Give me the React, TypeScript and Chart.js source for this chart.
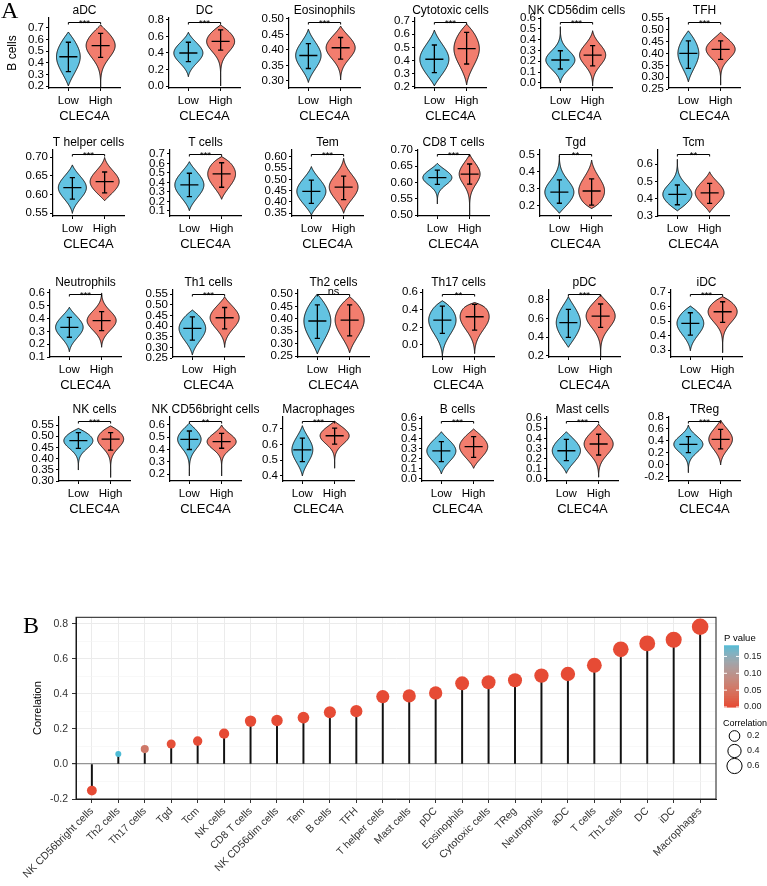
import React, { useEffect, useRef } from 'react';
import { Chart, registerables } from 'chart.js';

Chart.register(...registerables);

const FONT = '"Liberation Sans", Arial, Helvetica, sans-serif';
Chart.defaults.font.family = FONT;

// ---------------- Panel A data ----------------
const cellTypes = [
  'aDC', 'DC', 'Eosinophils', 'Cytotoxic cells', 'NK CD56dim cells', 'TFH',
  'T helper cells', 'T cells', 'Tem', 'CD8 T cells', 'Tgd', 'Tcm',
  'Neutrophils', 'Th1 cells', 'Th2 cells', 'Th17 cells', 'pDC', 'iDC',
  'NK cells', 'NK CD56bright cells', 'Macrophages', 'B cells', 'Mast cells', 'TReg',
];
const groupLabels = ['Low', 'High'];
const groupAxisTitle = 'CLEC4A';
const firstAxisTitle = 'B cells';
const sigLabels = [
  '***', '***', '***', '***', '***', '***',
  '***', '***', '***', '***', '**', '**',
  '***', '***', 'ns', '**', '***', '***',
  '***', '**', '***', '***', '***', '***',
];
// each entry: [min, mean - sd, mean, mean + sd, max]
const lowGroup = [
  [0.20, 0.323, 0.451, 0.575, 0.663],
  [0.113, 0.295, 0.40, 0.53, 0.651],
  [0.295, 0.34, 0.382, 0.42, 0.467],
  [0.208, 0.308, 0.41, 0.518, 0.632],
  [0.0, 0.128, 0.211, 0.297, 0.52],
  [0.281, 0.338, 0.401, 0.454, 0.496],
  [0.549, 0.587, 0.618, 0.645, 0.679],
  [0.103, 0.25, 0.374, 0.497, 0.619],
  [0.341, 0.393, 0.447, 0.497, 0.557],
  [0.534, 0.594, 0.615, 0.638, 0.659],
  [0.157, 0.216, 0.281, 0.353, 0.494],
  [0.33, 0.365, 0.425, 0.479, 0.627],
  [0.141, 0.254, 0.332, 0.41, 0.488],
  [0.264, 0.334, 0.389, 0.443, 0.475],
  [0.258, 0.321, 0.391, 0.456, 0.50],
  [-0.127, 0.131, 0.282, 0.441, 0.501],
  [0.293, 0.40, 0.557, 0.70, 0.835],
  [0.295, 0.403, 0.484, 0.557, 0.603],
  [0.349, 0.446, 0.48, 0.516, 0.535],
  [0.184, 0.40, 0.483, 0.551, 0.614],
  [0.40, 0.491, 0.566, 0.64, 0.719],
  [0.049, 0.17, 0.276, 0.367, 0.465],
  [0.056, 0.18, 0.278, 0.39, 0.465],
  [-0.128, 0.205, 0.345, 0.472, 0.667],
];
const highGroup = [
  [0.19, 0.446, 0.546, 0.652, 0.723],
  [0.0, 0.436, 0.54, 0.68, 0.74],
  [0.303, 0.37, 0.407, 0.44, 0.477],
  [0.215, 0.374, 0.49, 0.614, 0.677],
  [-0.03, 0.156, 0.257, 0.344, 0.482],
  [0.267, 0.376, 0.418, 0.454, 0.49],
  [0.583, 0.604, 0.634, 0.66, 0.699],
  [0.223, 0.35, 0.49, 0.608, 0.672],
  [0.349, 0.41, 0.466, 0.515, 0.594],
  [0.50, 0.595, 0.626, 0.657, 0.687],
  [0.185, 0.205, 0.288, 0.359, 0.47],
  [0.32, 0.373, 0.434, 0.488, 0.555],
  [0.176, 0.306, 0.384, 0.454, 0.60],
  [0.30, 0.387, 0.439, 0.487, 0.537],
  [0.263, 0.331, 0.395, 0.456, 0.489],
  [-0.097, 0.168, 0.32, 0.46, 0.48],
  [0.20, 0.507, 0.628, 0.757, 0.854],
  [0.282, 0.491, 0.564, 0.633, 0.668],
  [0.316, 0.438, 0.487, 0.516, 0.546],
  [0.184, 0.41, 0.464, 0.532, 0.60],
  [0.449, 0.602, 0.655, 0.704, 0.747],
  [0.105, 0.213, 0.318, 0.416, 0.492],
  [0.017, 0.236, 0.344, 0.44, 0.54],
  [0.0, 0.267, 0.428, 0.595, 0.75],
];
const yMinValues = [
  0.183, -0.024, 0.277, 0.192, -0.048, 0.255,
  0.542, 0.047, 0.337, 0.497, 0.141, 0.30,
  0.10, 0.255, 0.246, -0.136, 0.189, 0.252,
  0.30, 0.143, 0.368, -0.02, -0.02, -0.267,
];
const yMaxValues = [
  0.783, 0.824, 0.503, 0.723, 0.60, 0.55,
  0.719, 0.742, 0.631, 0.70, 0.529, 0.681,
  0.623, 0.569, 0.516, 0.623, 0.907, 0.714,
  0.586, 0.665, 0.774, 0.61, 0.61, 0.80,
];
const yTickFrom = [
  0.2, 0.0, 0.30, 0.2, 0.0, 0.25,
  0.55, 0.1, 0.35, 0.50, 0.2, 0.3,
  0.1, 0.25, 0.25, 0.0, 0.2, 0.3,
  0.30, 0.2, 0.4, 0.0, 0.0, -0.2,
];
const yTickTo = [
  0.7, 0.8, 0.50, 0.7, 0.6, 0.55,
  0.70, 0.7, 0.60, 0.70, 0.5, 0.6,
  0.6, 0.55, 0.50, 0.6, 0.8, 0.7,
  0.55, 0.6, 0.7, 0.6, 0.6, 0.8,
];
const yTickStep = [
  0.1, 0.2, 0.05, 0.1, 0.1, 0.05,
  0.05, 0.1, 0.05, 0.05, 0.1, 0.1,
  0.1, 0.05, 0.05, 0.2, 0.2, 0.1,
  0.05, 0.1, 0.1, 0.1, 0.1, 0.2,
];

// ---------------- Panel B data ----------------
const corrCells = [
  'NK CD56bright cells', 'Th2 cells', 'Th17 cells', 'Tgd', 'Tcm', 'NK cells',
  'CD8 T cells', 'NK CD56dim cells', 'Tem', 'B cells', 'TFH', 'T helper cells',
  'Mast cells', 'pDC', 'Eosinophils', 'Cytotoxic cells', 'TReg', 'Neutrophils',
  'aDC', 'T cells', 'Th1 cells', 'DC', 'iDC', 'Macrophages',
];
const corrValues = [
  -0.152, 0.057, 0.085, 0.114, 0.131, 0.173,
  0.245, 0.248, 0.265, 0.296, 0.302, 0.385,
  0.389, 0.406, 0.461, 0.467, 0.478, 0.505,
  0.514, 0.564, 0.655, 0.689, 0.71, 0.784,
];
const corrPValues = [
  0.0, 0.183, 0.06, 0.004, 0.001, 0.0,
  0.0, 0.0, 0.0, 0.0, 0.0, 0.0,
  0.0, 0.0, 0.0, 0.0, 0.0, 0.0,
  0.0, 0.0, 0.0, 0.0, 0.0, 0.0,
];
const pLegendTicks = [0.0, 0.05, 0.1, 0.15];
const sizeLegendTicks = [0.2, 0.4, 0.6];
const corrTicks = [-0.2, -0.1, 0.0, 0.1, 0.2, 0.3, 0.4, 0.5, 0.6, 0.7, 0.8];

// ---------------- layout / style ----------------
const LOW_FILL = '#63C3E2';
const HIGH_FILL = '#F27D6E';
const P_LOW_COLOR = '#E64B35';
const P_HIGH_COLOR = '#4DBBD5';
const ROWS = [
  { top: 18, bottom: 88 },
  { top: 150, bottom: 216 },
  { top: 290, bottom: 357 },
  { top: 417, bottom: 481 },
];
const AXIS_X = [
  49, 169, 289, 415, 541, 669,
  53, 170, 292, 418, 540, 658,
  50, 173, 298, 423, 549, 671,
  59, 170, 283, 422, 547, 669,
];
const PLOT_W = 71;
const TOP_PAD = 16;
const X_AXIS_H = 36;
const RIGHT_PAD = 26;

function tickList(from: number, to: number, step: number) {
  const n = Math.round((to - from) / step);
  return Array.from({ length: n + 1 }, (_, k) => +(from + k * step).toFixed(4));
}

// ---------------- colour helpers (Lab interpolation like ggplot) ----------------
function hexToRgb(h: string) {
  const v = parseInt(h.slice(1), 16);
  return [(v >> 16) & 255, (v >> 8) & 255, v & 255];
}
function toLin(c: number) {
  c /= 255;
  return c <= 0.04045 ? c / 12.92 : Math.pow((c + 0.055) / 1.055, 2.4);
}
function fromLin(c: number) {
  const v = c <= 0.0031308 ? 12.92 * c : 1.055 * Math.pow(c, 1 / 2.4) - 0.055;
  return Math.max(0, Math.min(255, Math.round(v * 255)));
}
function rgbToLab(rgb: number[]) {
  const [r, g, b] = rgb.map(toLin);
  const X = (r * 0.4124 + g * 0.3576 + b * 0.1805) / 0.95047;
  const Y = r * 0.2126 + g * 0.7152 + b * 0.0722;
  const Z = (r * 0.0193 + g * 0.1192 + b * 0.9505) / 1.08883;
  const f = (t: number) => (t > 0.008856 ? Math.cbrt(t) : 7.787 * t + 16 / 116);
  const fx = f(X), fy = f(Y), fz = f(Z);
  return [116 * fy - 16, 500 * (fx - fy), 200 * (fy - fz)];
}
function labToRgb(lab: number[]) {
  const [L, a, bb] = lab;
  const fy = (L + 16) / 116;
  const fx = fy + a / 500;
  const fz = fy - bb / 200;
  const inv = (t: number) => (t * t * t > 0.008856 ? t * t * t : (t - 16 / 116) / 7.787);
  const X = inv(fx) * 0.95047, Y = inv(fy), Z = inv(fz) * 1.08883;
  const r = X * 3.2406 + Y * -1.5372 + Z * -0.4986;
  const g = X * -0.9689 + Y * 1.8758 + Z * 0.0415;
  const b = X * 0.0557 + Y * -0.204 + Z * 1.057;
  return `rgb(${fromLin(r)},${fromLin(g)},${fromLin(b)})`;
}
const LAB_LOW = rgbToLab(hexToRgb(P_LOW_COLOR));
const LAB_HIGH = rgbToLab(hexToRgb(P_HIGH_COLOR));
const P_MIN = Math.min(...corrPValues);
const P_MAX = Math.max(...corrPValues);
function pColor(p: number) {
  const t = Math.max(0, Math.min(1, (p - P_MIN) / (P_MAX - P_MIN)));
  return labToRgb(LAB_LOW.map((v, i) => v + (LAB_HIGH[i] - v) * t));
}
const ABS_MIN = Math.min(...corrValues.map(Math.abs));
const ABS_MAX = Math.max(...corrValues.map(Math.abs));
function sizeFor(v: number) {
  const t = Math.max(0, (Math.abs(v) - ABS_MIN) / (ABS_MAX - ABS_MIN));
  return 3 + 5.3 * Math.sqrt(t);
}

// ---------------- violin plugin ----------------
const violinPlugin = {
  id: 'violinPanel',
  afterDatasetsDraw(chart: any, _args: any, opts: any) {
    const { ctx, chartArea } = chart;
    const xs = chart.scales.x;
    const ys = chart.scales.y;
    const unit = xs.getPixelForValue(2) - xs.getPixelForValue(1);
    const groups = [opts.low, opts.high];
    const fills = [LOW_FILL, HIGH_FILL];
    const sds = groups.map((g: number[]) => (g[3] - g[1]) / 2);
    const sdMin = Math.min(...sds);
    ctx.save();
    groups.forEach((g: number[], gi: number) => {
      const [mn, lo, mean, hi, mx] = g;
      const sd = sds[gi];
      const cx = xs.getPixelForValue(gi + 1);
      const half = 0.45 * unit * Math.max(0.72, sdMin / sd);
      const N = 90;
      const pts: number[][] = [];
      for (let k = 0; k <= N; k++) {
        const v = mn + ((mx - mn) * k) / N;
        const z = (v - mean) / sd;
        let w = Math.exp(-0.5 * z * z);
        const e = v < mean ? (mean - v) / Math.max(1e-6, mean - mn) : (v - mean) / Math.max(1e-6, mx - mean);
        w *= 1 - Math.pow(Math.min(1, e), 6);
        pts.push([half * w, ys.getPixelForValue(v)]);
      }
      ctx.beginPath();
      pts.forEach(([w, py], k) => (k ? ctx.lineTo(cx + w, py) : ctx.moveTo(cx + w, py)));
      for (let k = N; k >= 0; k--) ctx.lineTo(cx - pts[k][0], pts[k][1]);
      ctx.closePath();
      ctx.fillStyle = fills[gi];
      ctx.fill();
      ctx.lineWidth = 1;
      ctx.strokeStyle = '#111';
      ctx.lineJoin = 'round';
      ctx.stroke();
      // crossbar (mean +/- sd)
      const yLo = ys.getPixelForValue(lo);
      const yHi = ys.getPixelForValue(hi);
      const yM = ys.getPixelForValue(mean);
      const cap = 0.08 * unit;
      const bar = 0.28 * unit;
      ctx.beginPath();
      ctx.lineWidth = 1.3;
      ctx.strokeStyle = '#000';
      ctx.moveTo(cx, yLo); ctx.lineTo(cx, yHi);
      ctx.moveTo(cx - cap, yLo); ctx.lineTo(cx + cap, yLo);
      ctx.moveTo(cx - cap, yHi); ctx.lineTo(cx + cap, yHi);
      ctx.moveTo(cx - bar, yM); ctx.lineTo(cx + bar, yM);
      ctx.stroke();
    });
    // significance bracket
    const by = chartArea.top + 4.5;
    const x1 = xs.getPixelForValue(1);
    const x2 = xs.getPixelForValue(2);
    ctx.beginPath();
    ctx.lineWidth = 1;
    ctx.strokeStyle = '#000';
    ctx.moveTo(x1, by + 2); ctx.lineTo(x1, by); ctx.lineTo(x2, by); ctx.lineTo(x2, by + 2);
    ctx.stroke();
    ctx.fillStyle = '#000';
    ctx.textAlign = 'center';
    ctx.textBaseline = 'alphabetic';
    if (opts.sig === 'ns') {
      ctx.font = `11px ${FONT}`;
      ctx.fillText(opts.sig, (x1 + x2) / 2, by + 0.5);
    } else {
      ctx.font = `9.5px ${FONT}`;
      ctx.fillText(opts.sig, (x1 + x2) / 2, by + 3);
    }
    // panel title
    ctx.font = `12px ${FONT}`;
    ctx.textBaseline = 'middle';
    ctx.fillText(opts.title, (chartArea.left + chartArea.right) / 2, chartArea.top - 7.5);
    ctx.restore();
  },
};

function ViolinPlot({ idx }: { idx: number }) {
  const ref = useRef<HTMLCanvasElement | null>(null);
  const row = ROWS[Math.floor(idx / 6)];
  const first = idx === 0;
  const yW = first ? 49 : 36;
  const left = AXIS_X[idx] - yW;
  const top = row.top - TOP_PAD;
  const width = yW + PLOT_W + RIGHT_PAD;
  const height = TOP_PAD + (row.bottom - row.top) + X_AXIS_H;
  useEffect(() => {
    if (!ref.current) return;
    const step = yTickStep[idx];
    const ticks = tickList(yTickFrom[idx], yTickTo[idx], step);
    const dec = step < 0.099 ? 2 : 1;
    const axisGrid = { display: true, drawOnChartArea: false, drawTicks: true, tickLength: 3, color: '#000', lineWidth: 1 };
    const axisBorder = { display: true, color: '#000', width: 1.2 };
    const chart = new Chart(ref.current, {
      type: 'scatter',
      data: {
        datasets: [
          {
            data: [
              { x: 1, y: lowGroup[idx][2] },
              { x: 2, y: highGroup[idx][2] },
            ],
            pointRadius: 0,
          },
        ],
      },
      options: {
        animation: false,
        responsive: false,
        events: [],
        layout: { padding: { top: TOP_PAD, right: RIGHT_PAD, left: 0, bottom: 0 } },
        plugins: {
          legend: { display: false },
          tooltip: { enabled: false },
          violinPanel: { low: lowGroup[idx], high: highGroup[idx], sig: sigLabels[idx], title: cellTypes[idx] },
        } as any,
        scales: {
          x: {
            type: 'linear',
            min: 0.4,
            max: 2.6,
            afterBuildTicks: (s: any) => { s.ticks = [{ value: 1 }, { value: 2 }]; },
            afterFit: (s: any) => { s.height = X_AXIS_H; },
            ticks: {
              callback: (v: any) => groupLabels[Math.round(v) - 1],
              font: { size: 11.5 },
              color: '#000',
              padding: 3,
              autoSkip: false,
              maxRotation: 0,
            },
            grid: axisGrid,
            border: axisBorder,
            title: { display: true, text: groupAxisTitle, font: { size: 13 }, color: '#000', padding: { top: 0, bottom: 0 } },
          },
          y: {
            type: 'linear',
            min: yMinValues[idx],
            max: yMaxValues[idx],
            afterBuildTicks: (s: any) => { s.ticks = ticks.map((v) => ({ value: v })); },
            afterFit: (s: any) => { s.width = yW; },
            ticks: {
              callback: (v: any) => Number(v).toFixed(dec),
              font: { size: 11.5 },
              color: '#000',
              padding: 2,
              autoSkip: false,
            },
            grid: axisGrid,
            border: axisBorder,
            title: first
              ? { display: true, text: firstAxisTitle, font: { size: 12 }, color: '#000', padding: { top: 5, bottom: 0 } }
              : { display: false },
          },
        },
      } as any,
      plugins: [violinPlugin],
    });
    return () => chart.destroy();
  }, [idx]);
  return (
    <canvas
      ref={ref}
      width={width}
      height={height}
      style={{ position: 'absolute', left, top, width, height }}
    />
  );
}

// ---------------- lollipop plugin ----------------
const lollipopPlugin = {
  id: 'lollipopExtras',
  afterDraw(chart: any) {
    const { ctx, chartArea } = chart;
    ctx.save();
    ctx.strokeStyle = '#1a1a1a';
    ctx.lineWidth = 1;
    ctx.strokeRect(chartArea.left, chartArea.top, chartArea.right - chartArea.left, chartArea.bottom - chartArea.top);
    // P value colour bar
    const lx = chartArea.right + 8;
    const barTop = chartArea.top + 28;
    const barH = 61.7;
    const barW = 15;
    ctx.fillStyle = '#000';
    ctx.font = `9.5px ${FONT}`;
    ctx.textAlign = 'left';
    ctx.textBaseline = 'middle';
    ctx.fillText('P value', lx, barTop - 7);
    const steps = 62;
    for (let k = 0; k < steps; k++) {
      const p = P_MAX - ((P_MAX - P_MIN) * (k + 0.5)) / steps;
      ctx.fillStyle = pColor(p);
      ctx.fillRect(lx, barTop + (barH * k) / steps, barW, barH / steps + 0.6);
    }
    const pY = (p: number) => barTop + barH * (1 - (p - P_MIN) / (P_MAX - P_MIN));
    pLegendTicks.forEach((p) => {
      const y = pY(p);
      ctx.strokeStyle = '#fff';
      ctx.lineWidth = 1;
      ctx.beginPath();
      ctx.moveTo(lx, y); ctx.lineTo(lx + 3, y);
      ctx.moveTo(lx + barW - 3, y); ctx.lineTo(lx + barW, y);
      ctx.stroke();
      ctx.fillStyle = '#222';
      ctx.font = `9px ${FONT}`;
      ctx.fillText(p.toFixed(2), lx + barW + 5, y);
    });
    // size legend
    const sTop = barTop + barH + 17;
    ctx.fillStyle = '#000';
    ctx.font = `9px ${FONT}`;
    ctx.fillText('Correlation', lx - 1, sTop);
    sizeLegendTicks.forEach((v, k) => {
      const cy = sTop + 12 + k * 15;
      ctx.beginPath();
      ctx.strokeStyle = '#000';
      ctx.lineWidth = 1;
      ctx.arc(lx + 10.5, cy, sizeFor(v), 0, Math.PI * 2);
      ctx.stroke();
      ctx.fillStyle = '#222';
      ctx.font = `9px ${FONT}`;
      ctx.fillText(v.toFixed(1), lx + 23, cy);
    });
    ctx.restore();
  },
};

function Lollipop() {
  const ref = useRef<HTMLCanvasElement | null>(null);
  const left = 0, top = 596, width = 767, height = 290;
  useEffect(() => {
    if (!ref.current) return;
    const pts = corrValues.map((v, i) => ({ x: i + 1, y: v }));
    const isMajor = (v: number) => Math.round(v * 10) % 2 === 0;
    const chart = new Chart(ref.current, {
      type: 'scatter',
      data: {
        datasets: [
          {
            type: 'scatter',
            data: pts,
            pointRadius: corrValues.map(sizeFor),
            pointBackgroundColor: corrPValues.map(pColor),
            pointBorderWidth: 0,
            order: 0,
          },
          {
            type: 'bar',
            data: pts,
            backgroundColor: '#111',
            barThickness: 1.3,
            order: 1,
          },
        ],
      },
      options: {
        animation: false,
        responsive: false,
        events: [],
        layout: { padding: { top: 21.3, right: 51, left: 0, bottom: 0 } },
        plugins: { legend: { display: false }, tooltip: { enabled: false } },
        scales: {
          x: {
            type: 'linear',
            min: 0.4,
            max: 24.6,
            offset: false,
            afterBuildTicks: (s: any) => { s.ticks = corrCells.map((_, i) => ({ value: i + 1 })); },
            afterFit: (s: any) => { s.height = 87; },
            ticks: {
              callback: (v: any) => corrCells[Math.round(v) - 1],
              autoSkip: false,
              minRotation: 45,
              maxRotation: 45,
              font: { size: 10.5 },
              color: '#333',
              padding: 2,
            },
            grid: { offset: false, color: '#EBEBEB', lineWidth: 1, drawTicks: true, tickLength: 4, tickColor: '#333' },
            border: { display: true, color: '#1a1a1a', width: 1 },
          },
          y: {
            type: 'linear',
            min: -0.2,
            max: 0.838,
            afterBuildTicks: (s: any) => { s.ticks = corrTicks.map((v) => ({ value: v })); },
            afterFit: (s: any) => { s.width = 76; },
            ticks: {
              callback: (v: any) => (isMajor(Number(v)) ? Number(v).toFixed(1) : ''),
              font: { size: 10.5 },
              color: '#333',
              padding: 4,
              autoSkip: false,
            },
            grid: {
              color: (c: any) => {
                const v = c.tick ? c.tick.value : 1;
                if (Math.abs(v) < 1e-9) return '#959595';
                return isMajor(v) ? '#EBEBEB' : '#F4F4F4';
              },
              lineWidth: (c: any) => {
                const v = c.tick ? c.tick.value : 1;
                if (Math.abs(v) < 1e-9) return 1.2;
                return isMajor(v) ? 1 : 0.6;
              },
              tickColor: (c: any) => {
                const v = c.tick ? c.tick.value : 1;
                return isMajor(v) ? '#333' : 'rgba(0,0,0,0)';
              },
              drawTicks: true,
              tickLength: 4,
            },
            border: { display: true, color: '#1a1a1a', width: 1 },
            title: { display: true, text: 'Correlation', font: { size: 11 }, color: '#000', padding: { top: 31.4, bottom: 0 } },
          },
        },
      } as any,
      plugins: [lollipopPlugin],
    });
    return () => chart.destroy();
  }, []);
  return (
    <canvas
      ref={ref}
      width={width}
      height={height}
      style={{ position: 'absolute', left, top, width, height }}
    />
  );
}

const panelLetter: React.CSSProperties = {
  position: 'absolute',
  fontFamily: '"Liberation Serif", "Times New Roman", serif',
  fontSize: 24,
  lineHeight: '24px',
  color: '#000',
};

export default function App() {
  return (
    <div style={{ position: 'absolute', left: 0, top: 0, width: 767, height: 886, overflow: 'hidden', background: '#fff' }}>
      {cellTypes.map((_, i) => (
        <ViolinPlot key={i} idx={i} />
      ))}
      <Lollipop />
      <div style={{ ...panelLetter, left: 1, top: -2 }}>A</div>
      <div style={{ ...panelLetter, left: 23, top: 613 }}>B</div>
    </div>
  );
}
